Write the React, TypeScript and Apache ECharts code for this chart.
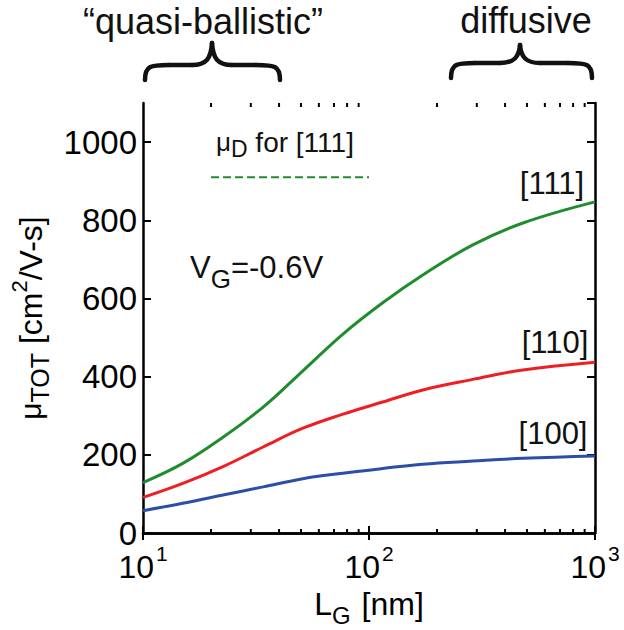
import React, { useEffect, useRef } from "react";
import * as echarts from "echarts";

// ---- data ----
const lengths = [10, 15, 22.6, 34, 51, 76.7, 115, 173, 288, 480, 1000];
const mu111 = [129, 178, 245, 322, 415, 509, 589, 660, 737, 793, 847];
const mu110 = [91, 127, 170, 220, 268, 304, 335, 366, 393, 417, 437];
const mu100 = [57, 76, 97, 118, 139, 153, 165, 176, 184, 191, 197];
const muD111Range = [20, 100];
const muD111 = 910;
const minorTickValues = [20, 30, 40, 50, 60, 70, 80, 90, 200, 300, 400, 500, 600, 700, 800, 900];
const yTicks = [0, 200, 400, 600, 800, 1000];
const xExponents = [1, 2, 3];

const FONT = "'Liberation Sans', Arial, Helvetica, sans-serif";
const GREEN = "#1f8c30";
const RED = "#ee1f24";
const BLUE = "#2c4ea6";

function brace(x0: number, x1: number, yEnd: number, yMid: number, xp: number, yPeak: number) {
  const style = { stroke: "#111", lineWidth: 4.5, fill: "none", lineCap: "round" };
  return {
    type: "group",
    children: [
      { type: "bezierCurve", shape: { x1: x0, y1: yEnd, cpx1: x0, cpy1: yMid + 1, cpx2: x0 + 5, cpy2: yMid, x2: x0 + 24, y2: yMid }, style },
      { type: "line", shape: { x1: x0 + 24, y1: yMid, x2: xp - 20, y2: yMid }, style },
      { type: "bezierCurve", shape: { x1: xp - 20, y1: yMid, cpx1: xp - 6, cpy1: yMid, cpx2: xp - 1, cpy2: yMid - 6, x2: xp, y2: yPeak }, style },
      { type: "bezierCurve", shape: { x1: xp, y1: yPeak, cpx1: xp + 1, cpy1: yMid - 6, cpx2: xp + 6, cpy2: yMid, x2: xp + 20, y2: yMid }, style },
      { type: "line", shape: { x1: xp + 20, y1: yMid, x2: x1 - 24, y2: yMid }, style },
      { type: "bezierCurve", shape: { x1: x1 - 24, y1: yMid, cpx1: x1 - 5, cpy1: yMid, cpx2: x1, cpy2: yMid + 1, x2: x1, y2: yEnd }, style },
    ],
  };
}

export default function App() {
  const ref = useRef<HTMLDivElement>(null);
  useEffect(() => {
    if (!ref.current) return;
    const chart = echarts.init(ref.current, undefined, { renderer: "svg" });
    const axisLineStyle = { color: "#000", width: 2.5 };
    const lineSeries = (name: string, vals: number[], color: string) => ({
      name,
      type: "line",
      data: lengths.map((x, i) => [x, vals[i]]),
      smooth: 0.4,
      showSymbol: false,
      lineStyle: { color, width: 3 },
      z: 3,
    });
    const option: any = {
      animation: false,
      backgroundColor: "#fff",
      textStyle: { fontFamily: FONT },
      grid: { left: 143, right: 29, top: 103, bottom: 97, containLabel: false, outerBoundsMode: "none" },
      xAxis: [
        {
          type: "log",
          logBase: 10,
          min: 10,
          max: 1000,
          position: "bottom",
          axisLine: { show: true, lineStyle: axisLineStyle },
          axisTick: { show: true, inside: true, length: 7, lineStyle: { color: "#000", width: 2 } },
          splitLine: { show: false },
          axisLabel: {
            margin: 10,
            color: "#000",
            fontFamily: FONT,
            fontSize: 32,
            formatter: (v: number) => {
              const e = Math.round(Math.log10(v));
              return xExponents.includes(e) ? `{b|10}{sup|${e}}` : "";
            },
            rich: {
              b: { fontSize: 32, fontFamily: FONT, color: "#000", lineHeight: 40, verticalAlign: "bottom" },
              sup: { fontSize: 21, fontFamily: FONT, color: "#000", lineHeight: 40, verticalAlign: "top", padding: [0, 0, 0, 2] },
            },
          },
          name: "{t|L}{sub|G}{t| [nm]}",
          nameLocation: "middle",
          nameGap: 52,
          nameTextStyle: {
            color: "#000",
            fontFamily: FONT,
            rich: {
              t: { fontSize: 32, fontFamily: FONT, color: "#000", lineHeight: 40, verticalAlign: "top" },
              sub: { fontSize: 24, fontFamily: FONT, color: "#000", lineHeight: 40, verticalAlign: "bottom", padding: [0, 2, 0, 0] },
            },
          },
        },
        {
          type: "log",
          logBase: 10,
          min: 10,
          max: 1000,
          position: "top",
          axisLine: { show: true, lineStyle: axisLineStyle },
          axisTick: { show: true, inside: true, length: 7, lineStyle: { color: "#000", width: 2 } },
          axisLabel: { show: false },
          splitLine: { show: false },
        },
      ],
      yAxis: [
        {
          type: "value",
          min: 0,
          max: 1100,
          interval: 200,
          position: "left",
          axisLine: { show: true, lineStyle: axisLineStyle },
          axisTick: { show: true, inside: true, length: 8, lineStyle: { color: "#000", width: 2 } },
          splitLine: { show: false },
          axisLabel: {
            margin: 6,
            color: "#000",
            fontFamily: FONT,
            fontSize: 33,
            showMaxLabel: false,
            formatter: (v: number) => (yTicks.includes(v) ? String(v) : ""),
          },
          name: "{mu|μ}{sub|TOT}{t| [cm}{sup|2}{t|/V-s]}",
          nameLocation: "middle",
          nameRotate: 90,
          nameGap: 88,
          nameTextStyle: {
            color: "#000",
            fontFamily: FONT,
            rich: {
              mu: { fontSize: 30, fontFamily: FONT, color: "#000", lineHeight: 44, verticalAlign: "middle" },
              t: { fontSize: 32, fontFamily: FONT, color: "#000", lineHeight: 44, verticalAlign: "middle" },
              sub: { fontSize: 25, fontFamily: FONT, color: "#000", lineHeight: 44, verticalAlign: "bottom" },
              sup: { fontSize: 22, fontFamily: FONT, color: "#000", lineHeight: 44, verticalAlign: "top" },
            },
          },
        },
        {
          type: "value",
          min: 0,
          max: 1100,
          interval: 200,
          position: "right",
          axisLine: { show: true, lineStyle: axisLineStyle },
          axisTick: { show: true, inside: true, length: 8, lineStyle: { color: "#000", width: 2 } },
          axisLabel: { show: false },
          splitLine: { show: false },
        },
      ],
      series: [
        lineSeries("[111]", mu111, GREEN),
        lineSeries("[110]", mu110, RED),
        lineSeries("[100]", mu100, BLUE),
        {
          name: "μD [111]",
          type: "line",
          data: muD111Range.map((x) => [x, muD111]),
          showSymbol: false,
          lineStyle: { color: GREEN, width: 2, type: [8, 4] },
          z: 3,
        },
        {
          name: "minor ticks",
          type: "custom",
          silent: true,
          data: minorTickValues.map((v) => [v]),
          renderItem: (params: any, api: any) => {
            const v = api.value(0);
            const b = api.coord([v, 0]);
            const t = api.coord([v, 1100]);
            const st = { stroke: "#000", lineWidth: 2 };
            return {
              type: "group",
              children: [
                { type: "line", shape: { x1: b[0], y1: b[1], x2: b[0], y2: b[1] - 4 }, style: st },
                { type: "line", shape: { x1: t[0], y1: t[1], x2: t[0], y2: t[1] + 4 }, style: st },
              ],
            };
          },
          z: 5,
        },
      ],
      graphic: [
        {
          type: "text",
          x: 203,
          y: 21,
          style: { text: "“quasi-ballistic”", fontSize: 36, fontFamily: FONT, fill: "#111", align: "center", verticalAlign: "middle" },
        },
        {
          type: "text",
          x: 526,
          y: 20,
          style: { text: "diffusive", fontSize: 36, fontFamily: FONT, fill: "#111", align: "center", verticalAlign: "middle" },
        },
        brace(145, 280, 80, 65, 212, 43),
        brace(451, 592, 78, 63, 520, 45),
        {
          type: "text",
          x: 216,
          y: 142,
          style: {
            text: "{mu|μ}{sub|D}{t| for [111]}",
            fontFamily: FONT,
            fill: "#111",
            align: "left",
            verticalAlign: "middle",
            rich: {
              mu: { fontSize: 26, fontFamily: FONT, fill: "#111", lineHeight: 36, verticalAlign: "middle" },
              sub: { fontSize: 23, fontFamily: FONT, fill: "#111", lineHeight: 36, verticalAlign: "bottom" },
              t: { fontSize: 28, fontFamily: FONT, fill: "#111", lineHeight: 36, verticalAlign: "middle" },
            },
          },
        },
        {
          type: "text",
          x: 190,
          y: 272,
          style: {
            text: "{t|V}{sub|G}{t|=-0.6V}",
            fontFamily: FONT,
            fill: "#111",
            align: "left",
            verticalAlign: "middle",
            rich: {
              t: { fontSize: 31, fontFamily: FONT, fill: "#111", lineHeight: 40, verticalAlign: "top" },
              sub: { fontSize: 26, fontFamily: FONT, fill: "#111", lineHeight: 40, verticalAlign: "bottom" },
            },
          },
        },
        {
          type: "text",
          x: 552,
          y: 183,
          style: { text: "[111]", fontSize: 31, fontFamily: FONT, fill: "#111", align: "center", verticalAlign: "middle" },
        },
        {
          type: "text",
          x: 555,
          y: 342,
          style: { text: "[110]", fontSize: 31, fontFamily: FONT, fill: "#111", align: "center", verticalAlign: "middle" },
        },
        {
          type: "text",
          x: 553,
          y: 433,
          style: { text: "[100]", fontSize: 31, fontFamily: FONT, fill: "#111", align: "center", verticalAlign: "middle" },
        },
      ],
    };
    chart.setOption(option);
    return () => chart.dispose();
  }, []);
  return (
    <div
      ref={ref}
      style={{ position: "fixed", left: 0, top: 0, width: 624, height: 630, background: "#fff" }}
    />
  );
}
